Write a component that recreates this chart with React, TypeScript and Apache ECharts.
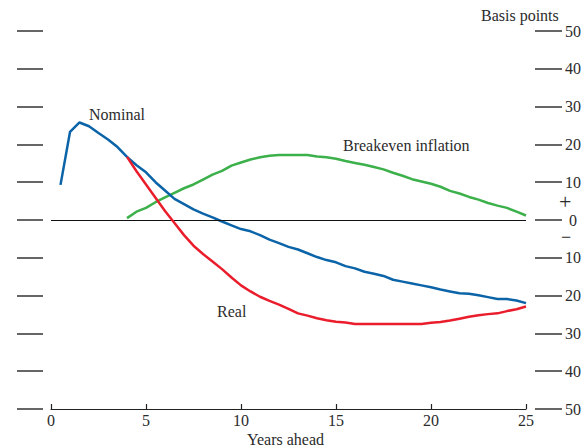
import React, { useEffect, useRef } from "react";
import * as echarts from "echarts";

const nominalYears = [0.5, 1, 1.5, 2, 2.5, 3, 3.5, 4, 4.5, 5, 5.5, 6, 6.5, 7, 7.5, 8, 8.5, 9, 9.5, 10, 10.5, 11, 11.5, 12, 12.5, 13, 13.5, 14, 14.5, 15, 15.5, 16, 16.5, 17, 17.5, 18, 18.5, 19, 19.5, 20, 20.5, 21, 21.5, 22, 22.5, 23, 23.5, 24, 24.5, 25];
const nominalValues = [9.3, 23.3, 25.8, 24.8, 23.0, 21.3, 19.3, 16.7, 14.5, 12.6, 10.0, 7.8, 5.6, 4.2, 2.8, 1.7, 0.7, -0.4, -1.4, -2.4, -3.0, -4.0, -5.2, -6.1, -7.1, -7.8, -8.8, -9.8, -10.6, -11.2, -12.2, -12.8, -13.7, -14.2, -14.8, -15.8, -16.3, -16.8, -17.3, -17.8, -18.4, -18.9, -19.4, -19.5, -19.9, -20.4, -20.9, -20.9, -21.3, -22.0];

const realYears = [4, 4.5, 5, 5.5, 6, 6.5, 7, 7.5, 8, 8.5, 9, 9.5, 10, 10.5, 11, 11.5, 12, 12.5, 13, 13.5, 14, 14.5, 15, 15.5, 16, 16.5, 17, 17.5, 18, 18.5, 19, 19.5, 20, 20.5, 21, 21.5, 22, 22.5, 23, 23.5, 24, 24.5, 25];
const realValues = [16.7, 12.9, 9.4, 5.9, 2.4, -0.8, -4.0, -6.8, -9.0, -11.0, -13.0, -15.2, -17.3, -18.9, -20.3, -21.4, -22.4, -23.5, -24.7, -25.3, -26.0, -26.5, -26.9, -27.1, -27.5, -27.5, -27.5, -27.5, -27.5, -27.5, -27.5, -27.5, -27.2, -27.0, -26.6, -26.1, -25.6, -25.2, -24.9, -24.7, -24.1, -23.6, -22.9];

const breakevenYears = [4, 4.5, 5, 5.5, 6, 6.5, 7, 7.5, 8, 8.5, 9, 9.5, 10, 10.5, 11, 11.5, 12, 12.5, 13, 13.5, 14, 14.5, 15, 15.5, 16, 16.5, 17, 17.5, 18, 18.5, 19, 19.5, 20, 20.5, 21, 21.5, 22, 22.5, 23, 23.5, 24, 24.5, 25];
const breakevenValues = [0.5, 2.2, 3.2, 4.7, 6.0, 7.2, 8.4, 9.4, 10.7, 12.0, 13.0, 14.4, 15.2, 16.0, 16.6, 17.0, 17.2, 17.2, 17.2, 17.2, 16.8, 16.6, 16.2, 15.6, 15.1, 14.6, 14.0, 13.4, 12.5, 11.7, 10.8, 10.2, 9.6, 8.8, 7.7, 7.0, 6.1, 5.4, 4.5, 3.8, 3.2, 2.2, 1.2];

const xTicks = [0, 5, 10, 15, 20, 25];
const yMin = -50;
const yMax = 50;

const FONT = "Liberation Serif, DejaVu Serif, serif";
const TEXT = "#2b2b2b";

const pairs = (xs: number[], ys: number[]) => xs.map((x, i) => [x, ys[i]]);

export default function App() {
  const ref = useRef<HTMLDivElement>(null);
  useEffect(() => {
    if (!ref.current) return;
    const chart = echarts.init(ref.current, null, { renderer: "svg" });
    chart.setOption({
      animation: false,
      backgroundColor: "#ffffff",
      grid: { left: 51, right: 61, top: 31, bottom: 39, containLabel: false },
      xAxis: {
        type: "value",
        min: xTicks[0],
        max: xTicks[xTicks.length - 1],
        interval: 5,
        axisLine: { show: true, onZero: false, lineStyle: { color: "#222", width: 1.2 } },
        axisTick: { show: true, inside: true, length: 5, lineStyle: { color: "#222", width: 1.2 } },
        axisLabel: { color: TEXT, fontFamily: FONT, fontSize: 16, margin: 3 },
        splitLine: { show: false },
      },
      yAxis: [
        {
          type: "value",
          position: "right",
          min: yMin,
          max: yMax,
          interval: 10,
          offset: 9,
          axisLine: { show: false, onZero: false },
          axisTick: { show: true, length: 27, lineStyle: { color: "#333", width: 1.5 } },
          axisLabel: {
            color: TEXT,
            fontFamily: FONT,
            fontSize: 16,
            margin: 38,
            align: "center",
            formatter: (v: number) => String(Math.abs(v)),
          },
          splitLine: { show: false },
        },
        {
          type: "value",
          position: "left",
          min: yMin,
          max: yMax,
          interval: 10,
          offset: 8,
          axisLine: { show: false, onZero: false },
          axisTick: { show: true, length: 26, lineStyle: { color: "#333", width: 1.5 } },
          axisLabel: { show: false },
          splitLine: { show: false },
        },
      ],
      series: [
        {
          name: "Breakeven inflation",
          type: "line",
          yAxisIndex: 0,
          data: pairs(breakevenYears, breakevenValues),
          showSymbol: false,
          symbol: "none",
          lineStyle: { color: "#3cb04a", width: 2.5 },
          z: 3,
          markLine: {
            silent: true,
            symbol: "none",
            label: { show: false },
            lineStyle: { color: "#111", width: 1.2, type: "solid" },
            data: [{ yAxis: 0 }],
          },
        },
        {
          name: "Nominal",
          type: "line",
          yAxisIndex: 0,
          data: pairs(nominalYears, nominalValues),
          showSymbol: false,
          symbol: "none",
          lineStyle: { color: "#0c64a8", width: 2.5 },
          z: 4,
        },
        {
          name: "Real",
          type: "line",
          yAxisIndex: 0,
          data: pairs(realYears, realValues),
          showSymbol: false,
          symbol: "none",
          lineStyle: { color: "#ea1d2c", width: 2.5 },
          z: 5,
        },
      ],
      graphic: [
        { type: "text", left: 89, top: 106, style: { text: "Nominal", font: `16px ${FONT}`, fill: TEXT } },
        { type: "text", left: 343, top: 137, style: { text: "Breakeven inflation", font: `16px ${FONT}`, fill: TEXT } },
        { type: "text", left: 217, top: 303, style: { text: "Real", font: `16px ${FONT}`, fill: TEXT } },
        { type: "text", left: 481, top: 7, style: { text: "Basis points", font: `16px ${FONT}`, fill: TEXT } },
        { type: "text", left: 247, top: 431, style: { text: "Years ahead", font: `16px ${FONT}`, fill: TEXT } },
        { type: "text", left: 559, top: 190, style: { text: "+", font: `22px ${FONT}`, fill: TEXT } },
        { type: "text", left: 561, top: 228, style: { text: "\u2212", font: `18px ${FONT}`, fill: TEXT } },
      ],
    });
    return () => chart.dispose();
  }, []);
  return <div ref={ref} style={{ width: 587, height: 448, position: "absolute", left: 0, top: 0 }} />;
}
